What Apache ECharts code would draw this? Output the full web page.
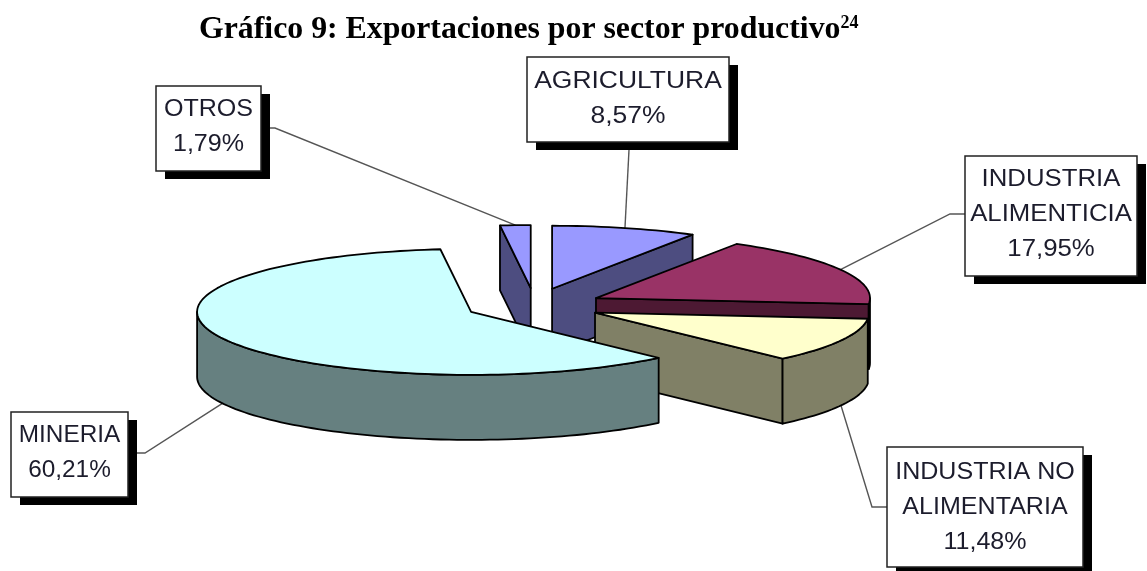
<!DOCTYPE html>
<html>
<head>
<meta charset="utf-8">
<style>html,body{margin:0;padding:0;background:#fff}#c{width:1147px;height:571px}</style>
<script src="https://cdn.jsdelivr.net/npm/echarts@6/dist/echarts.min.js"></script>
</head>
<body>
<div id="c"></div>
<script>
// --- data, in the pie's clockwise order starting at twelve o'clock ---
var sectors = ['AGRICULTURA', 'INDUSTRIA ALIMENTICIA', 'INDUSTRIA NO ALIMENTARIA', 'MINERIA', 'OTROS'];
var shares = [8.57, 17.95, 11.48, 60.21, 1.79];
var labelLines = [['AGRICULTURA'], ['INDUSTRIA', 'ALIMENTICIA'], ['INDUSTRIA NO', 'ALIMENTARIA'], ['MINERIA'], ['OTROS']];

// --- styles and layout ---
var topColors = ['#9999ff', '#993366', '#ffffcc', '#ccffff', '#9999ff'];
var wallColors = ['#4d4d80', '#4d1933', '#808066', '#668080', '#4d4d80'];
var drawOrder = [4, 0, 1, 2, 3];
var explode = [75.5, 71.7, 71.3, 66, 76];
var explodeNudgeX = [0, 0, -1, -1, 3];
var pie = { cx: 532, cy: 305.5, rx: 274, ry: 63, depth: 65, startDeg: -90 };
// box: left, top, right, bottom; side: which edge the leader leaves from; stub: elbow length
var boxes = [
  { l: 527, t: 57, r: 729, b: 142, line0: 82, side: 'bottom', ax: 629, sx: 1.15 },
  { l: 965, t: 156, r: 1137, b: 276, line0: 180, side: 'left', ay: 214, stub: 15, sx: 1.12 },
  { l: 887, t: 447, r: 1083, b: 567, line0: 473, side: 'left', ay: 507, stub: 15, sx: 1.09 },
  { l: 11, t: 412, r: 128, b: 497, line0: 436, side: 'right', ay: 453, stub: 8, sx: 1.06 },
  { l: 156, t: 86, r: 261, b: 171, line0: 110, side: 'right', ay: 128, stub: 5, sx: 1.09 }
];
var shadow = { dx: 9, dy: 8 };
var lineGap = 35;

var total = shares.reduce(function (a, b) { return a + b; }, 0);
var spans = [], acc = pie.startDeg;
shares.forEach(function (v) {
  var a = acc * Math.PI / 180, b = (acc + v / total * 360) * Math.PI / 180;
  spans.push([a, b]);
  acc += v / total * 360;
});

function pct(v) { return v.toFixed(2).replace('.', ',') + '%'; }

function renderItem(params, api) {
  var i = api.value(0);
  var a = spans[i][0], b = spans[i][1], mid = (a + b) / 2;
  var k = explode[i];
  var ax = pie.cx + k * Math.cos(mid) + explodeNudgeX[i];
  var ay = pie.cy + k * (pie.ry / pie.rx) * Math.sin(mid);
  function rim(t, drop) {
    return [ax + pie.rx * Math.cos(t), ay + pie.ry * Math.sin(t) + (drop || 0)];
  }
  function arc(from, to, drop) {
    var pts = [], n = Math.max(2, Math.ceil(Math.abs(to - from) / 0.03));
    for (var j = 0; j <= n; j++) pts.push(rim(from + (to - from) * j / n, drop));
    return pts;
  }
  var stroke = { stroke: '#000', lineWidth: 1.8, lineJoin: 'round' };
  function poly(pts, fill) {
    return { type: 'polygon', shape: { points: pts }, style: Object.assign({ fill: fill }, stroke) };
  }
  var kids = [];
  var d = pie.depth;
  // leader line
  var bx = boxes[i];
  var anchor = rim(mid, Math.sin(mid) > 0 ? d : 0);
  var leader;
  if (bx.side === 'bottom') {
    leader = [[bx.ax, bx.b + shadow.dy], anchor];
  } else if (bx.side === 'left') {
    leader = [[bx.l, bx.ay], [bx.l - bx.stub, bx.ay], anchor];
  } else {
    var sx = bx.r + shadow.dx;
    leader = [[sx, bx.ay], [sx + bx.stub, bx.ay], anchor];
  }
  kids.push({ type: 'polyline', shape: { points: leader }, style: { stroke: '#555', lineWidth: 1.4, fill: 'none' } });
  // cut faces turned towards the viewer
  if (Math.cos(a) < -1e-6) {
    var s = rim(a);
    kids.push(poly([[ax, ay], s, [s[0], s[1] + d], [ax, ay + d]], wallColors[i]));
  }
  if (Math.cos(b) > 1e-6) {
    var e = rim(b);
    kids.push(poly([[ax, ay], e, [e[0], e[1] + d], [ax, ay + d]], wallColors[i]));
  }
  // outer wall: front half of the ellipse only
  var ranges = [[a, b], [a + 2 * Math.PI, b + 2 * Math.PI]];
  ranges.forEach(function (r) {
    var f = Math.max(r[0], 0), t = Math.min(r[1], Math.PI);
    if (t > f) kids.push(poly(arc(f, t, 0).concat(arc(t, f, d)), wallColors[i]));
  });
  // top face
  kids.push(poly([[ax, ay]].concat(arc(a, b, 0)), topColors[i]));
  // label box
  kids.push({ type: 'rect', z2: 20, shape: { x: bx.l + shadow.dx, y: bx.t + shadow.dy, width: bx.r - bx.l, height: bx.b - bx.t }, style: { fill: '#000' } });
  kids.push({ type: 'rect', z2: 21, shape: { x: bx.l, y: bx.t, width: bx.r - bx.l, height: bx.b - bx.t }, style: { fill: '#fff', stroke: '#222', lineWidth: 1.5 } });
  labelLines[i].concat([pct(api.value(1))]).forEach(function (txt, n) {
    kids.push({
      type: 'text', z2: 22,
      x: (bx.l + bx.r) / 2, y: bx.line0 + n * lineGap, scaleX: bx.sx,
      style: { text: txt, font: '23px "Liberation Sans"', fill: '#1c1c2c', textAlign: 'center', textVerticalAlign: 'middle' }
    });
  });
  return { type: 'group', children: kids };
}

var chart = echarts.init(document.getElementById('c'), null, { renderer: 'canvas' });
chart.setOption({
  backgroundColor: '#fff',
  animation: false,
  title: {
    left: 199, top: 14, padding: 0,
    text: '{t|Gráfico 9: Exportaciones por sector productivo}{s|24}',
    textStyle: {
      rich: {
        t: { fontFamily: 'Liberation Serif', fontWeight: 'bold', fontSize: 31.8, color: '#000' },
        s: { fontFamily: 'Liberation Serif', fontWeight: 'bold', fontSize: 18, color: '#000', verticalAlign: 'top', lineHeight: 20 }
      }
    }
  },
  series: [{
    type: 'custom',
    coordinateSystem: 'none',
    renderItem: renderItem,
    silent: true,
    data: drawOrder.map(function (i) { return { name: sectors[i], value: [i, shares[i]] }; })
  }]
});
</script>
</body>
</html>
